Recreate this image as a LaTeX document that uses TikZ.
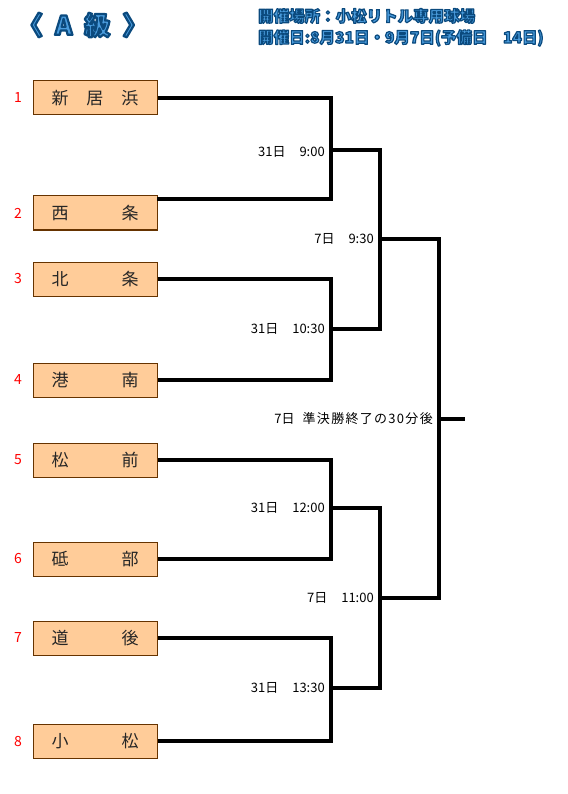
\documentclass[tikz,border=0pt]{standalone}
\usepackage{fontspec}
\setmainfont{Noto Sans CJK JP}
\usepackage{tikz}
\usetikzlibrary{positioning}

\definecolor{boxfill}{HTML}{FFCC99}
\definecolor{boxline}{HTML}{663300}
\definecolor{headfill}{HTML}{4A9CDD}

% outlined heading text (fill + stroke render mode)
\newcommand\rimtext[2][1.2]{{\color{headfill}%
  \special{pdf:literal direct 2 Tr #1 w 1 j 0.043 0.29 0.494 RG}#2\special{pdf:literal direct 0 Tr}}}
\newcommand\teamname[1]{\makebox[87pt][s]{#1}}
\newcommand\gap{\hspace{14pt}}

\begin{document}
\begin{tikzpicture}[x=1pt, y=-1pt,
  team/.style={draw=boxline, line width=1pt, fill=boxfill, minimum width=124pt,
    minimum height=34pt, inner sep=0pt, font=\fontsize{17}{17}\selectfont, text=black!85},
  seed/.style={text=red, font=\fontsize{14}{14}\selectfont},
  time/.style={font=\fontsize{13}{13}\selectfont, inner sep=0pt},
  head/.style={font=\bfseries\fontsize{15.5}{16}\selectfont, anchor=west, inner sep=0pt},
  bracket/.style={line width=3.2pt}]
  \useasboundingbox (0,0) rectangle (567,794);

  \node[head, font=\bfseries\fontsize{26}{26}\selectfont] (title) at (17,25)
    {\rimtext[2.2]{\makebox[131pt][s]{〈\hfill A\hfill 級\hfill 〉}}};
  \node[head] (place) at (258,16) {\rimtext{開催場所：小松リトル専用球場}};
  \node[head] (dates) at (258,38) {\rimtext{開催日:8月31日・9月7日(予備日　14日)}};

  \node[team] (t1) at (95,98) {\teamname{新\hfill 居\hfill 浜}};
  \node[team] (t2) at (95,213) {\teamname{西\hfill 条}};
  \node[team] (t3) at (95,279) {\teamname{北\hfill 条}};
  \node[team] (t4) at (95,380) {\teamname{港\hfill 南}};
  \node[team] (t5) at (95,460) {\teamname{松\hfill 前}};
  \node[team] (t6) at (95,559) {\teamname{砥\hfill 部}};
  \node[team] (t7) at (95,638) {\teamname{道\hfill 後}};
  \node[team] (t8) at (95,741) {\teamname{小\hfill 松}};
  \foreach \i in {1,...,8} \node[seed] (n\i) at (18,0 |- t\i) {\i};

  \coordinate (t2r) at (157,199);
  \coordinate (m1) at (331,150); \coordinate (m2) at (331,329);
  \coordinate (m3) at (331,508); \coordinate (m4) at (331,688);
  \coordinate (s1) at (380,239); \coordinate (s2) at (380,598);
  \coordinate (f) at (439,419);  \coordinate (w) at (465,419);

  \draw[bracket] (t1.east) -| (m1) |- (t2r);
  \draw[bracket] (t3.east) -| (m2) |- (t4.east);
  \draw[bracket] (t5.east) -| (m3) |- (t6.east);
  \draw[bracket] (t7.east) -| (m4) |- (t8.east);
  \draw[bracket] (m1) -| (s1) |- (m2);
  \draw[bracket] (m3) -| (s2) |- (m4);
  \draw[bracket] (s1) -| (f) |- (s2);
  \draw[bracket] (f) -- (w);

  \node[time, left=6pt of m1, yshift=-2pt] (g1) {31日\gap 9:00};
  \node[time, left=6pt of m2] (g2) {31日\gap 10:30};
  \node[time, left=6pt of m3] (g3) {31日\gap 12:00};
  \node[time, left=6pt of m4] (g4) {31日\gap 13:30};
  \node[time, left=6pt of s1] (g5) {7日\gap 9:30};
  \node[time, left=6pt of s2] (g6) {7日\gap 11:00};
  \node[time, left=6pt of f] (g7) {7日\hspace{8pt}{\addfontfeatures{LetterSpace=10}準決勝終了の30分後}};
\end{tikzpicture}
\end{document}
